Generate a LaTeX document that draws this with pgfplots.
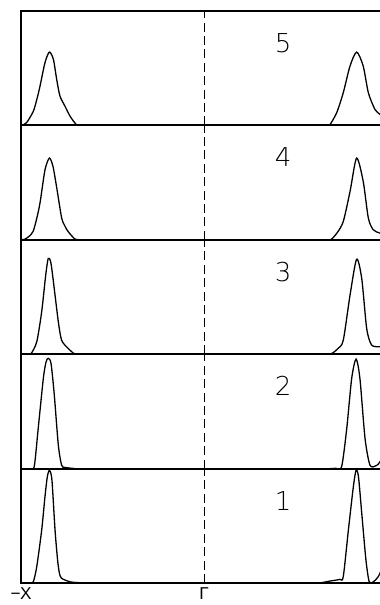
\documentclass[border=0pt]{standalone}
\usepackage{pgfplots}
\pgfplotsset{compat=1.18}
\usepackage{fontspec}
\newfontfamily\thinfont{DejaVu Sans ExtraLight}
\newfontfamily\labfont{Liberation Sans}

\pgfplotsset{
  panel/.style={
    width=183pt, height=57.2pt, scale only axis,
    xmin=-1, xmax=1, ymin=0, ymax=1,
    xtick=\empty, ytick=\empty,
    axis line style={line width=1pt},
    anchor=south west, clip=true,
  },
  curve/.style={black, line width=0.65pt, smooth, tension=0.45},
  gline/.style={black, line width=0.5pt, dash pattern=on 4.5pt off 2.2pt},
}
\tikzset{num/.style={font=\thinfont\fontsize{13}{13}\selectfont}}

\begin{document}
\begin{tikzpicture}
\path[use as bounding box] (0pt,0pt) rectangle (190pt,302.5pt);

% ---------- panel 1 (bottom) ----------
\begin{axis}[panel, at={(10.5pt,11pt)},
  xtick={-1,0,1}, xticklabels={{\char"2212\kern-0.3pt X},Γ,X}, major tick length=0pt,
  xticklabel style={font=\labfont\fontsize{8.6}{8.6}\selectfont, inner sep=0pt, yshift=-2pt}]
\addplot[gline] coordinates {(0,0) (0,1)};
\addplot[curve] coordinates {
(-0.951,0) (-0.933,0.01) (-0.914,0.142) (-0.887,0.463) (-0.869,0.754)
(-0.856,0.93) (-0.844,0.985) (-0.831,0.90) (-0.814,0.463) (-0.800,0.20)
(-0.790,0.085) (-0.778,0.041) (-0.732,0.01) (-0.694,0.004) (-0.650,0)};
\addplot[curve] coordinates {
(0.634,0) (0.689,0.017) (0.743,0.032) (0.761,0.055) (0.789,0.463)
(0.816,0.84) (0.831,0.985) (0.844,0.93) (0.862,0.61) (0.885,0.20)
(0.903,0.01) (0.925,0.01) (0.952,0.055) (0.978,0.15) (1.0,0.30)};
\node[num] at (axis cs:0.432,0.72) {1};
\end{axis}

% ---------- panel 2 ----------
\begin{axis}[panel, at={(10.5pt,68.2pt)}]
\addplot[gline] coordinates {(0,0) (0,1)};
\addplot[curve] coordinates {
(-0.951,0) (-0.928,0.015) (-0.906,0.35) (-0.878,0.788) (-0.863,0.933)
(-0.851,0.963) (-0.836,0.92) (-0.818,0.642) (-0.796,0.205) (-0.778,0.03)
(-0.760,0.01) (-0.705,0)};
\addplot[curve] coordinates {
(0.689,0) (0.721,0.003) (0.752,0.016) (0.780,0.35) (0.807,0.788)
(0.831,0.957) (0.852,0.788) (0.880,0.264) (0.907,0.03) (0.940,0.025)
(0.962,0.06) (1.0,0.20)};
\node[num] at (axis cs:0.432,0.72) {2};
\end{axis}

% ---------- panel 3 ----------
\begin{axis}[panel, at={(10.5pt,125.4pt)}]
\addplot[gline] coordinates {(0,0) (0,1)};
\addplot[curve] coordinates {
(-0.962,0) (-0.945,0.005) (-0.914,0.108) (-0.887,0.371) (-0.865,0.691)
(-0.851,0.837) (-0.836,0.793) (-0.814,0.516) (-0.796,0.283) (-0.778,0.122)
(-0.742,0.05) (-0.709,0.005) (-0.678,0)};
\addplot[curve] coordinates {
(0.661,0) (0.698,0.006) (0.732,0.05) (0.761,0.122) (0.798,0.516)
(0.834,0.83) (0.862,0.66) (0.889,0.225) (0.916,0.08) (0.962,0.065)
(1.0,0.06)};
\node[num] at (axis cs:0.432,0.72) {3};
\end{axis}

% ---------- panel 4 ----------
\begin{axis}[panel, at={(10.5pt,182.6pt)}]
\addplot[gline] coordinates {(0,0) (0,1)};
\addplot[curve] coordinates {
(-0.996,0) (-0.978,0.006) (-0.956,0.03) (-0.934,0.073) (-0.915,0.18)
(-0.896,0.323) (-0.869,0.61) (-0.845,0.714) (-0.825,0.64) (-0.803,0.437)
(-0.778,0.192) (-0.760,0.12) (-0.743,0.073) (-0.705,0.006) (-0.678,0)};
\addplot[curve] coordinates {
(0.661,0) (0.692,0) (0.727,0.06) (0.761,0.16) (0.798,0.422)
(0.834,0.714) (0.870,0.51) (0.898,0.19) (0.925,0.087) (0.962,0.058)
(1.0,0.03)};
\node[num] at (axis cs:0.432,0.72) {4};
\end{axis}

% ---------- panel 5 (top) ----------
\begin{axis}[panel, at={(10.5pt,239.8pt)}]
\addplot[gline] coordinates {(0,0) (0,1)};
\addplot[curve] coordinates {
(-0.996,0) (-0.970,0.023) (-0.933,0.122) (-0.913,0.23) (-0.896,0.344)
(-0.869,0.548) (-0.845,0.641) (-0.823,0.577) (-0.805,0.402) (-0.787,0.256)
(-0.760,0.169) (-0.732,0.081) (-0.699,0.009) (-0.678,0)};
\addplot[curve] coordinates {
(0.661,0) (0.685,0) (0.725,0.111) (0.761,0.286) (0.798,0.519)
(0.834,0.641) (0.870,0.519) (0.898,0.286) (0.934,0.14) (0.962,0.096)
(1.0,0.04)};
\node[num] at (axis cs:0.432,0.72) {5};
\end{axis}
\end{tikzpicture}
\end{document}
